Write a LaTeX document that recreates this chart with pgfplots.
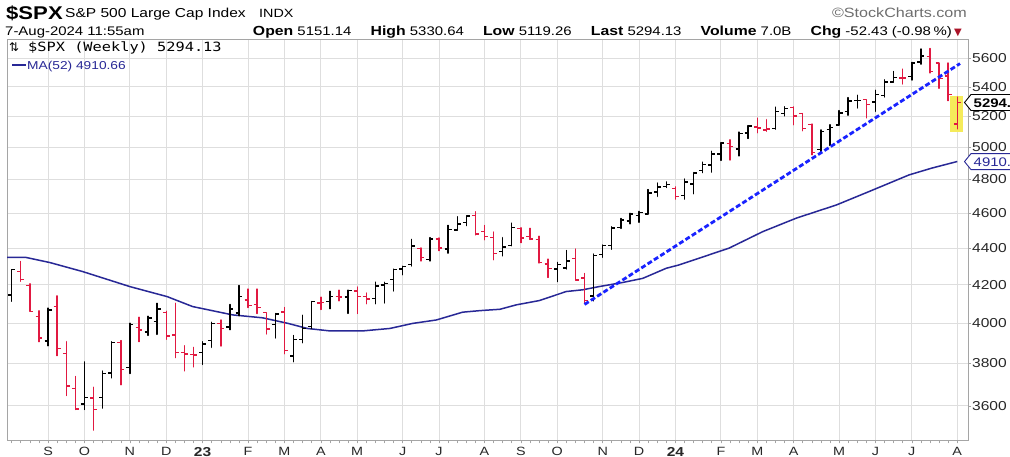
\documentclass[border=0pt]{standalone}
\usepackage{graphicx}
\usepackage{pgfplots}
\pgfplotsset{compat=1.18}
\usepackage{pgfplotstable}
\usepackage{fontspec}
\setmainfont{Liberation Sans}
\newfontfamily\dejavu{DejaVu Sans}
\newfontfamily\mono{DejaVu Sans Mono}
\definecolor{barred}{RGB}{225,25,65}
\definecolor{manavy}{RGB}{40,40,150}
\definecolor{trendblue}{RGB}{25,35,255}
\definecolor{hlyellow}{RGB}{245,235,90}
\definecolor{gridgray}{RGB}{222,222,222}
\definecolor{framegray}{RGB}{165,165,165}
\definecolor{txtgray}{RGB}{40,40,40}
\newcommand{\hs}[1]{\scalebox{1.2}[1]{#1}}
\newcommand{\fs}[1]{\fontsize{#1}{#1}\selectfont}
\newcommand{\yr}[1]{\raisebox{1bp}{\hs{\fs{13}\bfseries #1}}}

% weekly OHLC, index 0 = week of 8-Aug-2022
\pgfplotstableread{
i O H L C
0 4145 4280 4112 4280
1 4270 4325 4218 4228
2 4195 4204 4057 4057
3 4034 4062 3906 3924
4 3910 4076 3886 4067
5 4084 4140 3838 3873
6 3849 3907 3648 3693
7 3682 3737 3584 3586
8 3609 3807 3584 3640
9 3636 3686 3491 3583
10 3638 3763 3590 3753
11 3754 3906 3731 3901
12 3902 3912 3698 3771
13 3780 3999 3751 3993
14 3978 4029 3907 3965
15 3956 4034 3938 4026
16 4006 4101 3943 4072
17 4053 4060 3919 3934
18 3940 4101 3828 3852
19 3853 3886 3764 3845
20 3843 3878 3783 3840
21 3853 3906 3795 3895
22 3911 4003 3878 3999
23 3999 4015 3885 3973
24 3979 4095 3966 4071
25 4050 4195 4037 4136
26 4119 4176 4079 4090
27 4096 4176 4048 4079
28 4052 4052 3944 3970
29 3992 4048 3925 4046
30 4055 4079 3847 3862
31 3835 3937 3808 3917
32 3918 4039 3901 3971
33 3982 4110 3971 4109
34 4102 4133 4069 4105
35 4110 4164 4073 4138
36 4138 4170 4114 4134
37 4134 4170 4049 4169
38 4166 4187 4048 4136
39 4136 4155 4099 4124
40 4127 4213 4099 4192
41 4198 4212 4103 4205
42 4226 4283 4166 4282
43 4283 4299 4253 4299
44 4308 4448 4300 4410
45 4396 4400 4328 4348
46 4337 4458 4328 4450
47 4450 4456 4385 4399
48 4394 4528 4371 4505
49 4502 4578 4500 4536
50 4543 4582 4527 4582
51 4584 4607 4474 4478
52 4492 4527 4446 4464
53 4458 4490 4335 4370
54 4381 4458 4356 4406
55 4412 4541 4412 4516
56 4510 4514 4430 4457
57 4463 4511 4448 4450
58 4446 4466 4317 4320
59 4311 4338 4238 4288
60 4284 4320 4216 4309
61 4289 4386 4284 4327
62 4343 4394 4223 4224
63 4235 4259 4104 4117
64 4140 4366 4114 4358
65 4364 4416 4348 4415
66 4412 4520 4393 4514
67 4515 4568 4511 4559
68 4554 4598 4537 4595
69 4586 4609 4546 4604
70 4593 4739 4593 4719
71 4725 4778 4698 4755
72 4758 4785 4751 4770
73 4745 4755 4682 4697
74 4703 4803 4682 4784
75 4772 4842 4714 4840
76 4854 4907 4842 4891
77 4888 4975 4845 4959
78 4957 5030 4918 5027
79 5026 5048 4920 5006
80 4989 5098 4946 5089
81 5093 5140 5057 5137
82 5131 5189 5094 5124
83 5111 5179 5104 5117
84 5123 5262 5117 5234
85 5219 5265 5204 5254
86 5258 5264 5146 5204
87 5218 5220 5107 5123
88 5149 5150 4953 4967
89 4988 5112 4970 5100
90 5114 5146 5012 5128
91 5143 5239 5143 5223
92 5233 5326 5209 5303
93 5305 5342 5257 5305
94 5315 5315 5191 5278
95 5298 5376 5234 5347
96 5341 5448 5331 5432
97 5432 5506 5432 5465
98 5460 5523 5420 5460
99 5471 5570 5447 5567
100 5572 5666 5558 5615
101 5614 5670 5497 5505
102 5565 5566 5390 5459
103 5476 5566 5306 5347
104 5151 5331 5119 5294
}\ohlc

\pgfplotstableread{
x ma
-0.5 4348
1.5 4348
4.2 4319
7.8 4270
13 4189
17.1 4136
19.9 4084
24.3 4041
27.6 4026
30.4 3998
32.5 3973
35 3960
38.6 3960
41.6 3973
44.1 3998
46.7 4015
49.6 4055
51.5 4063
53.7 4070
55.5 4093
58 4115
61 4163
62.8 4172
64.6 4189
67.2 4211
69.4 4233
72 4288
73.4 4306
75.6 4343
78.9 4399
82.6 4492
86.3 4570
90.7 4647
94.3 4727
98.7 4828
101.2 4870
104 4911
}\matable

\begin{document}
\begin{tikzpicture}
\path[use as bounding box] (0,0) rectangle (1010bp,-457bp);
\fill[white] (0,0) rectangle (1010bp,-457bp);
\begin{axis}[
  at={(7bp,-39bp)}, anchor=north west,
  scale only axis, width=961bp, height=401.5bp,
  xmin=-0.517, xmax=105.18,
  ymode=log, ymin=3445, ymax=5739,
  axis line style={framegray, line width=0.8bp},
  tick style={framegray, line width=0.6bp},
  tick align=outside,
  major tick length=3bp, minor tick length=3bp,
  xtick pos=bottom, ytick pos=right,
  yticklabel pos=right,
  xtick={4,8,13,17,21,26,30,34,38,43,47,52,56,60,65,69,73,78,82,86,91,95,99,104},
  xticklabels={\hs{S},\hs{O},\hs{N},\hs{D},\yr{23},\hs{F},\hs{M},\hs{A},\hs{M},\hs{J},\hs{J},\hs{A},\hs{S},\hs{O},\hs{N},\hs{D},\yr{24},\hs{F},\hs{M},\hs{A},\hs{M},\hs{J},\hs{J},\hs{A}},
  minor xtick={0,1,...,104},
  ytick={3600,3800,4000,4200,4400,4600,4800,5000,5200,5400,5600},
  yticklabels={\hs{3600},\hs{3800},\hs{4000},\hs{4200},\hs{4400},\hs{4600},\hs{4800},\hs{5000},\hs{5200},\hs{5400},\hs{5600}},
  yminorticks=false,
  xmajorgrids, ymajorgrids,
  grid style={gridgray, line width=0.8bp},
  xticklabel style={font=\fs{12}, text=txtgray, anchor=north, inner sep=0pt, yshift=-3.5bp},
  yticklabel style={font=\fs{13}, text=txtgray, anchor=west, inner sep=0pt, xshift=1bp},
]
% highlight of the current week
\addplot[fill=hlyellow, draw=none] coordinates {(103.2,5099) (104.65,5099) (104.65,5338) (103.2,5338)} -- cycle;
% 52-week moving average
\addplot[manavy, line width=1.5bp] table[x=x, y=ma] {\matable};
% OHLC bars
\pgfplotsforeachungrouped \k in {0,...,104}{%
  \pgfplotstablegetelem{\k}{O}\of\ohlc \let\vo\pgfplotsretval
  \pgfplotstablegetelem{\k}{H}\of\ohlc \let\vh\pgfplotsretval
  \pgfplotstablegetelem{\k}{L}\of\ohlc \let\vl\pgfplotsretval
  \pgfplotstablegetelem{\k}{C}\of\ohlc \let\vc\pgfplotsretval
  \pgfplotstablegetelem{\k}{i}\of\ohlc \let\vi\pgfplotsretval
  \def\barcol{black}%
  \ifnum\k>0
    \pgfmathtruncatemacro{\pk}{\k-1}%
    \pgfplotstablegetelem{\pk}{C}\of\ohlc \let\vp\pgfplotsretval
    \pgfmathtruncatemacro{\isdown}{\vc<\vp}%
    \ifnum\isdown=1 \def\barcol{barred}\fi
  \fi
  \pgfmathsetmacro{\xa}{\vi-0.38}%
  \pgfmathsetmacro{\xb}{\vi+0.38}%
  \edef\doplot{\noexpand\addplot[draw=\barcol, line width=1.4bp, line join=round] coordinates {(\xa,\vo) (\vi,\vo) (\vi,\vh) (\vi,\vl) (\vi,\vc) (\xb,\vc)};}%
  \doplot
}
% trend line
\addplot[trendblue, line width=2.8bp, dash pattern=on 5bp off 2.5bp] coordinates {(63.0,4095) (104.3,5562)};
\end{axis}

\begin{scope}
\clip (0,0) rectangle (1010bp,-457bp);
% header row 1
\node[anchor=base west, inner sep=0] at (6bp,-19bp) {\hs{\fs{18.5}\bfseries\$SPX}};
\node[anchor=base west, inner sep=0] at (65bp,-17bp) {\hs{\fs{13}S\&P 500 Large Cap Index}};
\node[anchor=base west, inner sep=0] at (259bp,-17bp) {\hs{\fs{12}INDX}};
\node[anchor=base east, inner sep=0, text={rgb,255:red,110;green,110;blue,110}] at (967bp,-17bp) {\hs{\fs{13.5}\textcopyright StockCharts.com}};
% header row 2
\node[anchor=base west, inner sep=0] at (5bp,-35bp) {\hs{\fs{12.5}7-Aug-2024 11:55am}};
\node[anchor=base east, inner sep=0] at (952bp,-35bp) {\hs{\fs{12.5}{\fs{13.2}\bfseries Open} 5151.14\hspace{16bp}{\fs{13.2}\bfseries High} 5330.64\hspace{16bp}{\fs{13.2}\bfseries Low} 5119.26\hspace{16bp}{\fs{13.2}\bfseries Last} 5294.13\hspace{16bp}{\fs{13.2}\bfseries Volume} 7.0B\hspace{16bp}{\fs{13.2}\bfseries Chg} -52.43 (-0.98\,\%)}};
\node[anchor=base west, inner sep=0, text={rgb,255:red,170;green,20;blue,40}] at (954bp,-35bp) {\dejavu\fs{10}▼};
% legend
\node[anchor=base west, inner sep=0] at (9bp,-51bp) {\dejavu\fs{12}⇅};
\node[anchor=base west, inner sep=0] at (28bp,-51bp) {\hs{\mono\fs{12.8}\$SPX (Weekly) 5294.13}};
\draw[manavy, line width=2.5bp] (12bp,-65bp) -- (26bp,-65bp);
\node[anchor=base west, inner sep=0, text=manavy] at (27bp,-69.5bp) {\hs{\fs{11.5}MA(52) 4910.66}};
% right value tags
\draw[black, line width=0.9bp, fill=white] (964.5bp,-102.5bp) -- (971bp,-94.5bp) -- (1015bp,-94.5bp) -- (1015bp,-110.5bp) -- (971bp,-110.5bp) -- cycle;
\node[anchor=base west, inner sep=0] at (973.5bp,-107.3bp) {\hs{\fs{12.5}\bfseries 5294.13}};
\draw[manavy, line width=0.9bp, fill=white] (964.5bp,-161.6bp) -- (971bp,-153.6bp) -- (1015bp,-153.6bp) -- (1015bp,-169.6bp) -- (971bp,-169.6bp) -- cycle;
\node[anchor=base west, inner sep=0, text=manavy] at (973.5bp,-166.4bp) {\hs{\fs{12.5}4910.66}};
\end{scope}
\end{tikzpicture}
\end{document}
